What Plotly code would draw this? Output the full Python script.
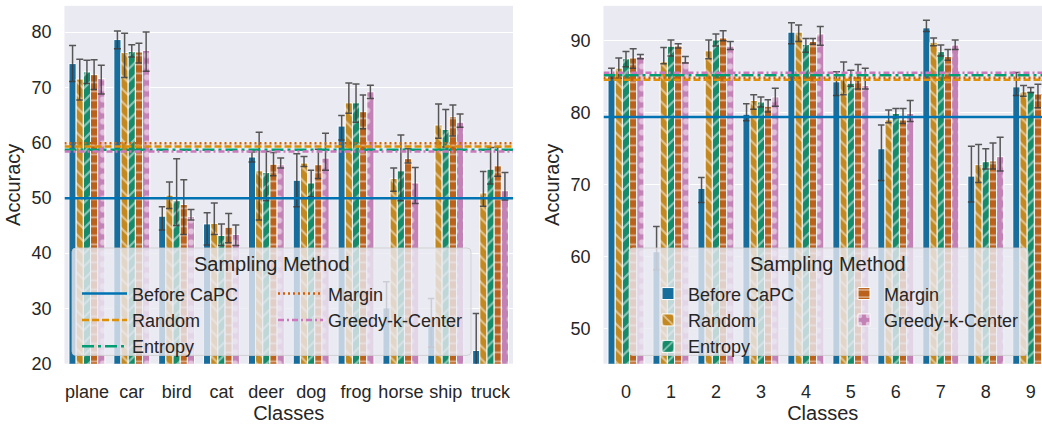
import plotly.graph_objects as go

W, H = 1042, 424

# ---------------- data ----------------
methods = ["Before CaPC", "Random", "Entropy", "Margin", "Greedy-k-Center"]
classes_left = ["plane", "car", "bird", "cat", "deer", "dog", "frog", "horse", "ship", "truck"]
classes_right = ["0", "1", "2", "3", "4", "5", "6", "7", "8", "9"]

# left panel (means, upper CI, lower CI)
before_l = [74.3, 78.65, 46.7, 45.3, 57.4, 53.2, 63.0, 30.1, 26.8, 22.4]
before_l_hi = [77.6, 80.2, 48.4, 47.3, 58.3, 58.0, 64.9, 34.85, 31.8, 29.1]
before_l_lo = [71.05, 77.0, 44.2, 41.5, 56.5, 48.4, 60.5, 27.4, 23.0, 15.7]
random_l = [71.5, 76.3, 50.5, 45.4, 54.9, 56.3, 67.2, 53.5, 63.2, 50.9]
random_l_hi = [75.1, 79.8, 52.9, 49.1, 61.9, 57.5, 70.8, 55.4, 67.0, 54.8]
random_l_lo = [67.7, 71.8, 48.1, 43.4, 46.0, 55.7, 65.3, 51.2, 60.8, 48.5]
entropy_l = [72.8, 76.5, 49.5, 43.2, 54.6, 52.7, 67.2, 54.9, 62.4, 55.2]
entropy_l_hi = [74.9, 77.7, 57.1, 45.3, 58.4, 55.0, 70.6, 61.4, 66.0, 59.1]
entropy_l_lo = [70.7, 75.5, 45.0, 41.4, 49.5, 50.2, 63.7, 49.5, 59.2, 52.5]
margin_l = [72.3, 76.4, 48.8, 44.7, 56.1, 56.0, 65.6, 57.1, 64.7, 55.8]
margin_l_hi = [75.0, 78.0, 53.3, 47.2, 58.2, 58.8, 68.6, 58.9, 66.8, 59.2]
margin_l_lo = [69.6, 74.4, 43.4, 41.9, 54.0, 53.5, 62.5, 56.3, 61.2, 53.9]
greedy_l = [71.6, 76.7, 46.6, 43.4, 56.0, 57.2, 69.2, 52.7, 63.7, 51.3]
greedy_l_hi = [74.0, 80.0, 47.9, 45.1, 57.2, 61.7, 70.4, 55.5, 65.2, 54.6]
greedy_l_lo = [68.8, 72.9, 46.0, 41.4, 55.4, 55.0, 68.0, 49.0, 62.8, 49.6]
hlines_l = [49.95, 59.3, 58.7, 59.9, 58.4]

# right panel
before_r = [85.5, 60.7, 69.5, 79.8, 91.2, 84.3, 75.0, 91.8, 71.2, 83.6]
before_r_hi = [86.2, 64.2, 71.0, 81.25, 92.5, 85.7, 78.3, 92.85, 75.35, 85.6]
before_r_lo = [84.8, 58.2, 67.55, 78.9, 89.6, 82.4, 70.6, 91.3, 67.6, 82.4]
random_r = [86.2, 87.07, 88.6, 81.7, 91.2, 84.7, 79.0, 89.8, 72.8, 82.9]
random_r_hi = [87.6, 89.05, 90.1, 82.5, 92.2, 87.05, 80.4, 90.4, 75.6, 83.8]
random_r_lo = [84.8, 86.8, 87.5, 80.5, 89.9, 82.5, 78.6, 89.3, 70.3, 82.3]
entropy_r = [87.5, 89.24, 90.1, 81.5, 89.5, 84.1, 79.9, 88.5, 73.2, 83.0]
entropy_r_hi = [88.5, 90.1, 90.95, 82.2, 90.3, 85.9, 80.6, 89.4, 75.0, 83.5]
entropy_r_lo = [86.4, 87.9, 89.26, 80.8, 88.4, 83.7, 79.3, 87.9, 72.2, 82.8]
margin_r = [87.6, 89.32, 90.4, 80.9, 89.9, 85.0, 79.0, 87.8, 73.3, 82.6]
margin_r_hi = [88.9, 89.6, 91.4, 81.8, 90.3, 86.7, 80.6, 88.8, 75.8, 83.95]
margin_r_lo = [86.2, 89.0, 90.0, 80.1, 89.5, 83.3, 78.5, 87.3, 72.2, 80.7]
greedy_r = [87.8, 87.15, 89.26, 82.2, 90.95, 83.8, 79.9, 89.4, 73.9, 83.5]
greedy_r_hi = [88.1, 87.8, 89.9, 83.4, 92.0, 86.2, 81.7, 90.1, 76.6, 84.5]
greedy_r_lo = [87.5, 86.9, 88.8, 80.9, 89.37, 83.3, 78.8, 88.8, 71.9, 82.5]
hlines_r = [79.4, 84.6, 85.2, 84.85, 85.57]

left_data = [(before_l, before_l_hi, before_l_lo), (random_l, random_l_hi, random_l_lo),
             (entropy_l, entropy_l_hi, entropy_l_lo), (margin_l, margin_l_hi, margin_l_lo),
             (greedy_l, greedy_l_hi, greedy_l_lo)]
right_data = [(before_r, before_r_hi, before_r_lo), (random_r, random_r_hi, random_r_lo),
              (entropy_r, entropy_r_hi, entropy_r_lo), (margin_r, margin_r_hi, margin_r_lo),
              (greedy_r, greedy_r_hi, greedy_r_lo)]

# ---------------- style ----------------
bar_colors = ["#176d9c", "#c38820", "#168b6a", "#ba611b", "#c282b6"]
line_colors = ["#0173b2", "#de8f05", "#029e73", "#d55e00", "#cc78bc"]
patterns = ["", "\\", "/", "-", "."]
pat_size = [8, 9, 9, 9, 11]
pat_sol = [0.2, 0.24, 0.24, 0.2, 0.25]
dashes = ["solid", "7px,3px", "12px,4px,3px,4px", "2px,3px", "6px,3px,2px,3px"]
FONT = "Liberation Sans, Arial, sans-serif"
TXT = "#262626"

fig = go.Figure()


def px_x(p):
    return p / W


def px_y(p):
    return 1 - p / H


def add_panel(data, hl, xa, ya, bar_legends, line_legends):
    n = len(data[0][0])
    xs = list(range(n))
    for i, (m, hi, lo) in enumerate(data):
        fig.add_trace(go.Bar(
            x=xs, y=m, xaxis=xa, yaxis=ya, name=methods[i], offsetgroup=str(i),
            legend=(bar_legends[0] if i < 3 else bar_legends[1]) if bar_legends else "legend",
            showlegend=bar_legends is not None,
            marker=dict(color=bar_colors[i], line=dict(color="white", width=1),
                        pattern=dict(shape=patterns[i], fgcolor="white", bgcolor=bar_colors[i],
                                     fillmode="overlay", size=pat_size[i], solidity=pat_sol[i])),
            error_y=dict(type="data", symmetric=False,
                         array=[a - b for a, b in zip(hi, m)],
                         arrayminus=[b - a for a, b in zip(lo, m)],
                         color="rgba(60,60,60,0.85)", thickness=1.5, width=3.5),
        ))
    for i, v in enumerate(hl):
        fig.add_trace(go.Scatter(
            x=[-0.5, n - 0.5], y=[v, v], mode="lines", xaxis=xa, yaxis=ya, name=methods[i],
            legend=(line_legends[0] if i < 3 else line_legends[1]) if line_legends else "legend",
            showlegend=line_legends is not None,
            line=dict(color=line_colors[i], width=2.5, dash=dashes[i]),
        ))


# left: legend shows the reference lines; right: legend shows the bars
add_panel(left_data, hlines_l, "x", "y", None, ("legend", "legend2"))
add_panel(right_data, hlines_r, "x2", "y2", ("legend3", "legend4"), None)

ydom = [px_y(372.5), px_y(6)]
TICK = dict(family=FONT, size=18, color=TXT)
TITLE = dict(family=FONT, size=20, color=TXT)
axis_common = dict(showline=False, zeroline=False, tickfont=TICK)
fig.update_layout(
    width=W, height=H, margin=dict(l=0, r=0, t=0, b=0),
    paper_bgcolor="white", plot_bgcolor="#eaeaf2",
    barmode="group", bargap=0.2, bargroupgap=0,
    font=dict(family=FONT, color=TXT),
    xaxis=dict(domain=[px_x(64.5), px_x(513)], range=[-0.5, 9.5], tickvals=list(range(10)),
               ticktext=classes_left, showgrid=False, ticklabelstandoff=15,
               title=dict(text="Classes", font=TITLE, standoff=2), **axis_common),
    yaxis=dict(domain=ydom, range=[20, 84.75], dtick=10, gridcolor="white", gridwidth=1.3,
               ticklabelstandoff=12,
               title=dict(text="Accuracy", font=TITLE, standoff=5), **axis_common),
    xaxis2=dict(domain=[px_x(603.5), 1.0], range=[-0.5, 9.25], tickvals=list(range(10)),
                ticktext=classes_right, showgrid=False, anchor="y2", ticklabelstandoff=15,
                title=dict(text="Classes", font=TITLE, standoff=2), **axis_common),
    yaxis2=dict(domain=ydom, range=[45.14, 94.85], dtick=10, gridcolor="white", gridwidth=1.3,
                anchor="x2", ticklabelstandoff=12,
                title=dict(text="Accuracy", font=TITLE, standoff=5), **axis_common),
)

leg_common = dict(bgcolor="rgba(0,0,0,0)", borderwidth=0, font=dict(family=FONT, size=18, color=TXT),
                  yanchor="top", xanchor="left", tracegroupgap=0, orientation="v")
fig.update_layout(
    legend=dict(x=px_x(77), y=px_y(282), itemwidth=45, **leg_common),
    legend2=dict(x=px_x(273), y=px_y(282), itemwidth=45, **leg_common),
    legend3=dict(x=px_x(648), y=px_y(282), **leg_common),
    legend4=dict(x=px_x(844), y=px_y(282), **leg_common),
)


def rounded_box(x0, y0, x1, y1, r=4):
    X0, X1 = px_x(x0), px_x(x1)
    Y0, Y1 = px_y(y0), px_y(y1)
    rx, ry = r / W, r / H
    return (f"M{X0+rx},{Y0} L{X1-rx},{Y0} Q{X1},{Y0} {X1},{Y0-ry} L{X1},{Y1+ry} Q{X1},{Y1} {X1-rx},{Y1} "
            f"L{X0+rx},{Y1} Q{X0},{Y1} {X0},{Y1+ry} L{X0},{Y0-ry} Q{X0},{Y0} {X0+rx},{Y0} Z")


for (bx0, bx1, tx) in [(72, 471, 272), (629, 1028, 828)]:
    fig.add_shape(type="path", path=rounded_box(bx0, 254, bx1, 364), xref="paper", yref="paper",
                  fillcolor="rgba(234,234,242,0.8)", line=dict(color="rgba(204,204,204,0.8)", width=1),
                  layer="above")
    fig.add_annotation(text="Sampling Method", x=px_x(tx), y=px_y(270), xref="paper", yref="paper",
                       showarrow=False, xanchor="center", yanchor="middle", font=TITLE)

fig.write_html("out.html")
